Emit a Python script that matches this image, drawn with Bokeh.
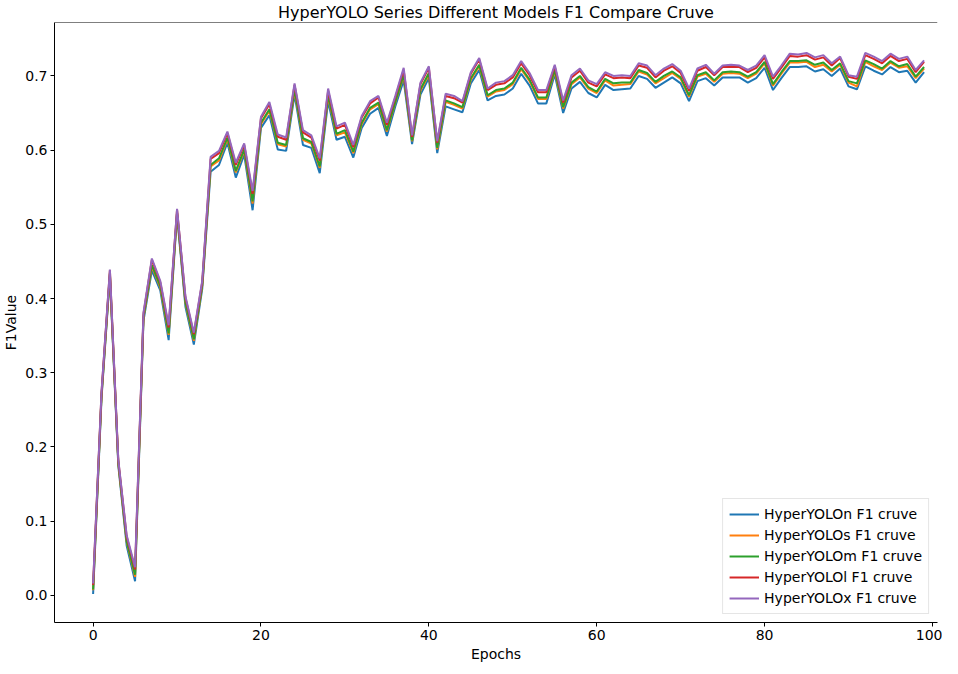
from bokeh.plotting import figure
from bokeh.models import Range1d, FixedTicker, PrintfTickFormatter, Span, Legend, LegendItem
from bokeh.embed import file_html
from bokeh.resources import INLINE

epochs = list(range(100))

f1_n = [0.002, 0.265, 0.430, 0.175, 0.067, 0.019, 0.370, 0.438, 0.411, 0.344,
        0.512, 0.389, 0.338, 0.413, 0.571, 0.580, 0.610, 0.563, 0.594, 0.519,
        0.630, 0.647, 0.601, 0.599, 0.675, 0.607, 0.603, 0.569, 0.666, 0.614,
        0.618, 0.590, 0.630, 0.649, 0.657, 0.619, 0.659, 0.694, 0.608, 0.675,
        0.697, 0.596, 0.659, 0.655, 0.651, 0.690, 0.708, 0.667, 0.673, 0.675,
        0.683, 0.703, 0.687, 0.663, 0.663, 0.702, 0.650, 0.683, 0.692, 0.677,
        0.671, 0.688, 0.681, 0.682, 0.683, 0.700, 0.696, 0.684, 0.691, 0.698,
        0.690, 0.666, 0.693, 0.697, 0.687, 0.698, 0.698, 0.698, 0.691, 0.697,
        0.711, 0.681, 0.697, 0.712, 0.712, 0.713, 0.706, 0.709, 0.700, 0.710,
        0.686, 0.682, 0.713, 0.707, 0.702, 0.712, 0.705, 0.707, 0.691, 0.705]

f1_s = [0.007, 0.268, 0.433, 0.178, 0.072, 0.025, 0.374, 0.443, 0.415, 0.351,
        0.515, 0.394, 0.343, 0.417, 0.578, 0.586, 0.615, 0.570, 0.599, 0.528,
        0.635, 0.653, 0.608, 0.605, 0.680, 0.614, 0.609, 0.576, 0.672, 0.620,
        0.624, 0.596, 0.635, 0.655, 0.662, 0.625, 0.664, 0.700, 0.612, 0.680,
        0.702, 0.601, 0.665, 0.661, 0.656, 0.695, 0.713, 0.672, 0.679, 0.681,
        0.689, 0.709, 0.693, 0.669, 0.669, 0.706, 0.656, 0.689, 0.698, 0.683,
        0.677, 0.694, 0.687, 0.688, 0.689, 0.706, 0.702, 0.690, 0.697, 0.704,
        0.696, 0.672, 0.699, 0.703, 0.692, 0.703, 0.704, 0.703, 0.697, 0.703,
        0.717, 0.687, 0.703, 0.718, 0.718, 0.719, 0.712, 0.715, 0.706, 0.715,
        0.691, 0.686, 0.719, 0.713, 0.708, 0.718, 0.711, 0.713, 0.697, 0.710]

f1_m = [0.008, 0.269, 0.434, 0.179, 0.073, 0.028, 0.375, 0.445, 0.417, 0.353,
        0.516, 0.395, 0.345, 0.418, 0.580, 0.589, 0.617, 0.572, 0.601, 0.531,
        0.637, 0.655, 0.610, 0.607, 0.682, 0.616, 0.611, 0.578, 0.674, 0.622,
        0.627, 0.598, 0.637, 0.657, 0.664, 0.627, 0.665, 0.702, 0.613, 0.682,
        0.704, 0.603, 0.667, 0.663, 0.658, 0.697, 0.715, 0.674, 0.681, 0.683,
        0.691, 0.711, 0.695, 0.671, 0.671, 0.708, 0.658, 0.691, 0.700, 0.685,
        0.679, 0.696, 0.690, 0.691, 0.691, 0.708, 0.704, 0.692, 0.700, 0.706,
        0.698, 0.674, 0.701, 0.705, 0.694, 0.705, 0.706, 0.705, 0.699, 0.705,
        0.719, 0.689, 0.705, 0.720, 0.720, 0.721, 0.715, 0.718, 0.708, 0.717,
        0.693, 0.690, 0.721, 0.716, 0.710, 0.720, 0.713, 0.716, 0.699, 0.712]

f1_l = [0.014, 0.273, 0.438, 0.182, 0.079, 0.035, 0.379, 0.452, 0.422, 0.361,
        0.520, 0.401, 0.352, 0.422, 0.588, 0.596, 0.623, 0.580, 0.607, 0.541,
        0.643, 0.662, 0.618, 0.614, 0.688, 0.624, 0.617, 0.586, 0.680, 0.629,
        0.634, 0.604, 0.644, 0.663, 0.671, 0.634, 0.671, 0.708, 0.618, 0.689,
        0.711, 0.610, 0.673, 0.670, 0.664, 0.703, 0.722, 0.681, 0.688, 0.690,
        0.698, 0.717, 0.701, 0.678, 0.678, 0.713, 0.664, 0.698, 0.707, 0.691,
        0.686, 0.702, 0.697, 0.698, 0.697, 0.714, 0.711, 0.698, 0.707, 0.713,
        0.704, 0.680, 0.707, 0.712, 0.701, 0.712, 0.712, 0.712, 0.705, 0.711,
        0.725, 0.696, 0.711, 0.727, 0.726, 0.728, 0.722, 0.725, 0.714, 0.724,
        0.699, 0.696, 0.728, 0.723, 0.717, 0.727, 0.720, 0.723, 0.705, 0.719]

f1_x = [0.016, 0.274, 0.439, 0.183, 0.081, 0.038, 0.381, 0.454, 0.424, 0.364,
        0.521, 0.403, 0.354, 0.424, 0.591, 0.599, 0.625, 0.583, 0.609, 0.545,
        0.645, 0.665, 0.621, 0.617, 0.690, 0.627, 0.620, 0.589, 0.683, 0.632,
        0.637, 0.607, 0.646, 0.666, 0.673, 0.637, 0.673, 0.711, 0.620, 0.691,
        0.713, 0.612, 0.676, 0.673, 0.666, 0.705, 0.724, 0.683, 0.691, 0.693,
        0.701, 0.720, 0.704, 0.681, 0.681, 0.715, 0.667, 0.701, 0.710, 0.694,
        0.689, 0.705, 0.700, 0.701, 0.700, 0.717, 0.714, 0.701, 0.710, 0.716,
        0.707, 0.683, 0.710, 0.715, 0.703, 0.714, 0.715, 0.714, 0.708, 0.714,
        0.728, 0.699, 0.714, 0.730, 0.729, 0.731, 0.725, 0.728, 0.717, 0.726,
        0.701, 0.699, 0.731, 0.726, 0.720, 0.730, 0.723, 0.726, 0.708, 0.721]

series_names = ["HyperYOLOn F1 cruve", "HyperYOLOs F1 cruve", "HyperYOLOm F1 cruve",
                "HyperYOLOl F1 cruve", "HyperYOLOx F1 cruve"]
series_values = [f1_n, f1_s, f1_m, f1_l, f1_x]
colors = ["#1f77b4", "#ff7f0e", "#2ca02c", "#d62728", "#9467bd"]

x_ticks = [0, 20, 40, 60, 80, 100]
y_ticks = [0.0, 0.1, 0.2, 0.3, 0.4, 0.5, 0.6, 0.7]

FONT = "DejaVu Sans"
Y_END = 0.772

p = figure(width=942, height=664, output_backend="svg", toolbar_location=None,
           x_range=Range1d(-4.6, 100.6), y_range=Range1d(-0.0365, Y_END),
           title="HyperYOLO Series Different Models F1 Compare Cruve")
p.min_border_left = 40
p.min_border_right = 5
p.min_border_top = 2
p.min_border_bottom = 20

p.title.align = "center"
p.title.text_font = FONT
p.title.text_font_size = "16px"
p.title.text_font_style = "normal"
p.title.text_color = "black"
p.title.standoff = 1

p.grid.visible = False
p.outline_line_color = None
p.background_fill_color = "white"
p.border_fill_color = "white"

items = []
for name, vals, col in zip(series_names, series_values, colors):
    r = p.line(epochs, vals, line_color=col, line_width=2)
    items.append(LegendItem(label=name, renderers=[r]))

top_spine = Span(location=Y_END, dimension="width", line_color="black", line_width=1)
p.add_layout(top_spine)

for ax in (p.xaxis[0], p.yaxis[0]):
    ax.axis_line_color = "black"
    ax.axis_line_width = 1
    ax.major_tick_line_color = "black"
    ax.major_tick_in = 0
    ax.major_tick_out = 4
    ax.minor_tick_line_color = None
    ax.major_label_text_font = FONT
    ax.major_label_text_font_size = "14px"
    ax.major_label_text_color = "black"
    ax.major_label_standoff = 3
    ax.axis_label_text_font = FONT
    ax.axis_label_text_font_size = "14px"
    ax.axis_label_text_font_style = "normal"
    ax.axis_label_text_color = "black"
    ax.axis_label_standoff = 3

p.xaxis[0].ticker = FixedTicker(ticks=x_ticks)
p.yaxis[0].ticker = FixedTicker(ticks=y_ticks)
p.yaxis[0].formatter = PrintfTickFormatter(format="%.1f")
p.xaxis[0].axis_label = "Epochs"
p.yaxis[0].axis_label = "F1Value"

legend = Legend(items=items, location="bottom_right")
legend.label_text_font = FONT
legend.label_text_font_size = "14px"
legend.label_text_color = "black"
legend.glyph_width = 30
legend.glyph_height = 18
legend.label_height = 18
legend.spacing = 3
legend.padding = 6
legend.margin = 8
legend.border_line_color = "#cccccc"
legend.border_line_width = 1
legend.background_fill_alpha = 0.8
p.add_layout(legend)

open("out.html", "w").write(file_html(p, INLINE))
